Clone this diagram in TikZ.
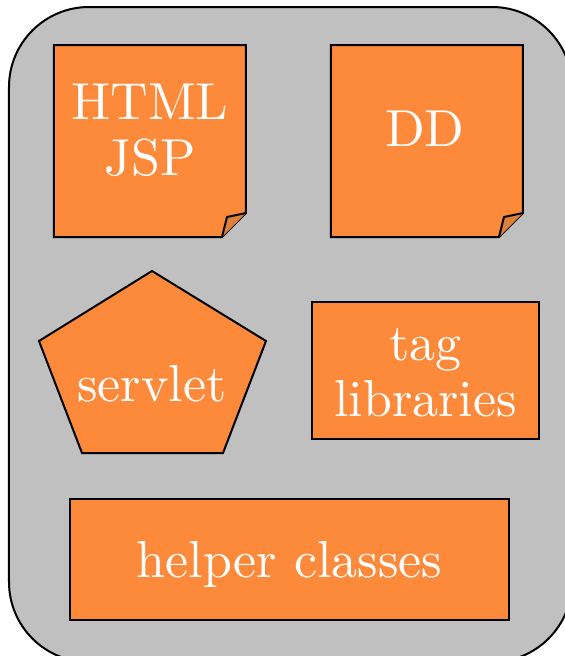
\documentclass[tikz,border=0pt]{standalone}
\usepackage{tikz}
\definecolor{boxgray}{RGB}{192,192,192}
\definecolor{orng}{RGB}{252,138,58}
\definecolor{flap}{RGB}{220,128,58}
\begin{document}
\begin{tikzpicture}[x=0.2pt,y=-0.2pt,line width=0.4pt,
  lbl/.style={text=white,font=\fontsize{10.4}{11.2}\selectfont,align=center,inner sep=0pt},
  obox/.style={draw=black,fill=orng,inner sep=0pt,anchor=north west},
  docshape/.style={draw=black,fill=orng,line join=miter},
  flapshape/.style={draw=black,fill=flap,line join=round}]
\useasboundingbox (0,0) rectangle (564,656);
\fill[boxgray,draw=black,rounded corners=80*0.2pt] (9,7) rectangle (572,662);
% document 1
\path[docshape] (54,45) -- (246,45) -- (246,213) -- (222,237) -- (54,237) -- cycle;
\path[flapshape] (246,213) -- (227,217) -- (222,237);
\node[lbl] (html) at (150,130) {HTML\\JSP};
% document 2
\path[docshape] (331,45) -- (523,45) -- (523,213) -- (499,237) -- (331,237) -- cycle;
\path[flapshape] (523,213) -- (504,217) -- (499,237);
\node[lbl] (dd) at (425,129) {DD};
% servlet pentagon
\path[draw=black,fill=orng,line join=miter] (152,271) -- (266,341) -- (223,453) -- (82,453) -- (39,341) -- cycle;
\node[lbl] (servlet) at (152,384) {servlet};
% tag libraries
\node[obox,minimum width=227*0.2pt,minimum height=137*0.2pt] (tagbox) at (311,301) {};
\node[lbl] (tag) at ([yshift=-0.4pt]tagbox.center) {tag\\libraries};
% helper classes
\node[obox,minimum width=439*0.2pt,minimum height=121*0.2pt] (helperbox) at (69,498) {};
\node[lbl] (helper) at ([yshift=-1pt]helperbox.center) {helper classes};
\end{tikzpicture}
\end{document}
